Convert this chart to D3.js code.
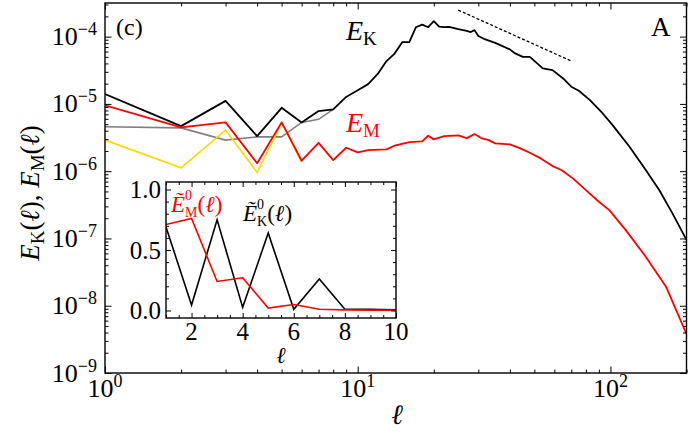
<!DOCTYPE html>
<html><head><meta charset="utf-8">
<script src="https://cdn.jsdelivr.net/npm/d3@7"></script>
<style>body{margin:0;background:#fff} svg{display:block} text{font-family:"Liberation Serif",serif;}</style>
</head><body><svg id="c" width="693" height="434"></svg>
<script>
// ---- data ----
const ellK = [1,2,3,4,5,6,7,8,9,10,11,12,13,14,15,16,17,18,19,20,21,22,23,25,27,28,29,30,32,35,40,42,45,48,54,59,65,70,75,83,92,102,119,138,156,176,200];
const EK   = [1.40e-5,4.68e-6,1.11e-5,3.32e-6,8.75e-6,5.31e-6,7.82e-6,8.28e-6,1.27e-5,1.60e-5,1.97e-5,2.79e-5,4.33e-5,5.6e-5,8.28e-5,8.28e-5,1.38e-4,1.51e-4,1.38e-4,1.70e-4,1.41e-4,1.38e-4,1.40e-4,1.29e-4,1.22e-4,1.17e-4,1.25e-4,1.02e-4,9.08e-5,8.09e-5,6.46e-5,5.63e-5,5.01e-5,5.01e-5,3.37e-5,3.18e-5,2.39e-5,1.80e-5,1.57e-5,1.14e-5,7.64e-6,4.84e-6,2.31e-6,1.04e-6,5.24e-7,2.36e-7,9.5e-8];
const ellM = [1,2,3,4,5,6,7,8,9,10,11,13,14,16,18,19,20,22,25,27,29,31,33,35,40,44,48,53,59,64,71,80,90,99,115,138,166,182,200];
const EM   = [9.5e-6,4.48e-6,5.31e-6,1.31e-6,5.31e-6,1.43e-6,2.64e-6,1.46e-6,2.23e-6,1.90e-6,2.06e-6,2.11e-6,2.39e-6,2.71e-6,2.77e-6,3.36e-6,2.97e-6,3.32e-6,3.40e-6,3.10e-6,3.56e-6,3.07e-6,2.90e-6,2.59e-6,2.50e-6,2.18e-6,1.88e-6,1.55e-6,1.19e-6,1.04e-6,7.82e-7,5.24e-7,3.51e-7,2.64e-7,1.33e-7,5.35e-8,1.92e-8,8.63e-9,3.8e-9];
const ellG = [1,2,3,4,5,6,7,8];
const EG   = [4.57e-6,4.4e-6,2.9e-6,3.24e-6,3.24e-6,5.3e-6,5.9e-6,8.28e-6];
const ellY = [1,2,3,4,5,6];
const EY   = [2.9e-6,1.12e-6,4.08e-6,9.6e-7,5.26e-6,1.36e-6];
const kolmL = [25,70];
const kolmE = [2.48e-4,4.34e-5];
const insetL = [1,2,3,4,5,6,7,8,9,10];
const EK0 = [0.69,0.045,0.75,0.026,0.64,0.01,0.26,0.01,0.01,0.005];
const EM0 = [0.71,0.76,0.24,0.27,0.02,0.05,0.01,0.005,0.003,0.002];
const xMajor = [1,10,100];
const yMajorExp = [-9,-8,-7,-6,-5,-4];
const insetXTicks = [2,4,6,8,10];
const insetYTicks = [0,0.5,1.0];

// ---- setup ----
const svg = d3.select("#c");
const L=105,R=686.5,T=3,B=373;
const x = d3.scaleLog().domain([1,200]).range([L,R]);
const y = d3.scaleLog().domain([1e-9,Math.pow(10,-3.5)]).range([B,T]);

function seq(g,parts,color){
  let cx=0,lastStart=0;
  parts.forEach(p=>{
    const sx=p.stack?lastStart:cx;
    const t=g.append("text").attr("x",sx).attr("y",p.dy||0).attr("font-size",p.fs)
      .attr("font-style",p.it?"italic":"normal").attr("fill",color||"#000").text(p.t);
    const w=t.node().getComputedTextLength();
    if(p.stack){cx=Math.max(cx,sx+w);} else {lastStart=sx;cx=sx+w+(p.gap||0);}
  });
  return cx;
}
function place(parent,x0,y0,parts,anchor,color,rot){
  const g=parent.append("g");
  const w=seq(g,parts,color);
  const off = anchor==="end"?-w:anchor==="middle"?-w/2:0;
  g.attr("transform",`translate(${x0},${y0})${rot?` rotate(${rot})`:""} translate(${off},0)`);
  return g;
}

svg.append("clipPath").attr("id","pc").append("rect").attr("x",L).attr("y",T).attr("width",R-L).attr("height",B-T);
const plot = svg.append("g").attr("clip-path","url(#pc)");
const line = d3.line().x(d=>x(d[0])).y(d=>y(d[1]));
plot.append("path").attr("d",line(d3.zip(ellG,EG))).attr("fill","none").attr("stroke","#808080").attr("stroke-width",1.6);
plot.append("path").attr("d",line(d3.zip(ellY,EY))).attr("fill","none").attr("stroke","#ffd700").attr("stroke-width",1.6);
plot.append("path").attr("d",line(d3.zip(ellK,EK))).attr("fill","none").attr("stroke","#000").attr("stroke-width",1.8).attr("stroke-linejoin","round");
plot.append("path").attr("d",line(d3.zip(ellM,EM))).attr("fill","none").attr("stroke","#ff0000").attr("stroke-width",1.8).attr("stroke-linejoin","round");
plot.append("path").attr("d",line(d3.zip(kolmL,kolmE))).attr("fill","none").attr("stroke","#000").attr("stroke-width",1.3).attr("stroke-dasharray","3,2");

// minor tick values
const xMinor=[]; [1,10,100].forEach(b=>{for(let k=2;k<=9;k++){const v=b*k; if(v<=200) xMinor.push(v);}});
const yMinor=[]; for(let e=-9;e<=-4;e++){for(let k=2;k<=9;k++){const v=k*Math.pow(10,e); if(v<=Math.pow(10,-3.5)) yMinor.push(v);}}
const yMajor = yMajorExp.map(e=>Math.pow(10,e));

function tickAxis(axisFn,scale,vals,size,tr){
  const g=svg.append("g").attr("transform",tr).call(axisFn(scale).tickValues(vals).tickSize(-size).tickFormat(""));
  g.select(".domain").remove();
  g.selectAll("line").attr("stroke","#000").attr("stroke-width",1);
}
tickAxis(d3.axisBottom,x,xMajor,6.5,`translate(0,${B})`);
tickAxis(d3.axisBottom,x,xMinor,3.5,`translate(0,${B})`);
tickAxis(d3.axisTop,x,xMajor,6.5,`translate(0,${T})`);
tickAxis(d3.axisTop,x,xMinor,3.5,`translate(0,${T})`);
tickAxis(d3.axisLeft,y,yMajor,6.5,`translate(${L},0)`);
tickAxis(d3.axisLeft,y,yMinor,3.5,`translate(${L},0)`);
tickAxis(d3.axisRight,y,yMajor,6.5,`translate(${R},0)`);
tickAxis(d3.axisRight,y,yMinor,3.5,`translate(${R},0)`);

svg.append("rect").attr("x",L).attr("y",T).attr("width",R-L).attr("height",B-T).attr("fill","none").attr("stroke","#000").attr("stroke-width",1.4);

// tick labels
xMajor.forEach((v,i)=>{
  place(svg,x(v),397,[{t:"10",fs:26},{t:String(i),fs:18,dy:-10}],"middle");
});
yMajorExp.forEach(e=>{
  place(svg,97,y(Math.pow(10,e))+8.5,[{t:"10",fs:26},{t:"\u2212"+(-e),fs:18,dy:-10}],"end");
});

// axis titles
place(svg,397,424,[{t:"\u2113",fs:28,it:true}],"middle");
place(svg,39,193,[{t:"E",fs:27,it:true},{t:"K",fs:19,dy:5},{t:"(",fs:27},{t:"\u2113",fs:27,it:true},{t:"),\u00A0",fs:27},
  {t:"E",fs:27,it:true},{t:"M",fs:19,dy:5},{t:"(",fs:27},{t:"\u2113",fs:27,it:true},{t:")",fs:27}],"middle","#000",-90);

// annotations
place(svg,116,35,[{t:"(c)",fs:24}],"start");
place(svg,651,36,[{t:"A",fs:27}],"start");
place(svg,346,39.5,[{t:"E",fs:28,it:true},{t:"K",fs:19,dy:5}],"start","#000");
place(svg,346,131.5,[{t:"E",fs:28,it:true},{t:"M",fs:19,dy:5}],"start","#ff0000");

// ---- inset ----
const IL=166,IR=396,IT=182,IB=318;
const xi=d3.scaleLinear().domain([1,10]).range([IL,IR]);
const yi=d3.scaleLinear().domain([-0.062,1.062]).range([IB,IT]);
svg.append("rect").attr("x",IL).attr("y",IT).attr("width",IR-IL).attr("height",IB-IT).attr("fill","#fff");
const il=d3.line().x(d=>xi(d[0])).y(d=>yi(d[1]));
svg.append("clipPath").attr("id","ic").append("rect").attr("x",IL).attr("y",IT).attr("width",IR-IL).attr("height",IB-IT);
const ig=svg.append("g").attr("clip-path","url(#ic)");
ig.append("path").attr("d",il(d3.zip(insetL,EK0))).attr("fill","none").attr("stroke","#000").attr("stroke-width",1.6);
ig.append("path").attr("d",il(d3.zip(insetL,EM0))).attr("fill","none").attr("stroke","#ff0000").attr("stroke-width",1.6);
const ixMinor=d3.range(1,10.01,0.5).filter(v=>insetXTicks.indexOf(v)<0);
const iyMinor=d3.range(0,1.05,0.1).map(v=>+v.toFixed(2)).filter(v=>insetYTicks.indexOf(v)<0);
tickAxis(d3.axisBottom,xi,insetXTicks,5,`translate(0,${IB})`);
tickAxis(d3.axisBottom,xi,ixMinor,3,`translate(0,${IB})`);
tickAxis(d3.axisTop,xi,insetXTicks,5,`translate(0,${IT})`);
tickAxis(d3.axisTop,xi,ixMinor,3,`translate(0,${IT})`);
tickAxis(d3.axisLeft,yi,insetYTicks,5,`translate(${IL},0)`);
tickAxis(d3.axisLeft,yi,iyMinor,3,`translate(${IL},0)`);
tickAxis(d3.axisRight,yi,insetYTicks,5,`translate(${IR},0)`);
tickAxis(d3.axisRight,yi,iyMinor,3,`translate(${IR},0)`);
svg.append("rect").attr("x",IL).attr("y",IT).attr("width",IR-IL).attr("height",IB-IT).attr("fill","none").attr("stroke","#000").attr("stroke-width",1.4);
insetXTicks.forEach(v=>place(svg,xi(v),340,[{t:String(v),fs:25}],"middle"));
insetYTicks.forEach(v=>place(svg,161,yi(v)+8.5,[{t:v.toFixed(1),fs:25}],"end"));
place(svg,281,363,[{t:"\u2113",fs:23,it:true}],"middle");
place(svg,171,212,[{t:"\u1EBC",fs:23,it:true},{t:"0",fs:14,dy:-12},{t:"M",fs:14,dy:5,stack:true},{t:"(",fs:23},{t:"\u2113",fs:23,it:true},{t:")",fs:23}],"start","#ff0000");
place(svg,243,221,[{t:"\u1EBC",fs:23,it:true},{t:"0",fs:14,dy:-12},{t:"K",fs:14,dy:5,stack:true},{t:"(",fs:23},{t:"\u2113",fs:23,it:true},{t:")",fs:23}],"start","#000");
</script></body></html>
